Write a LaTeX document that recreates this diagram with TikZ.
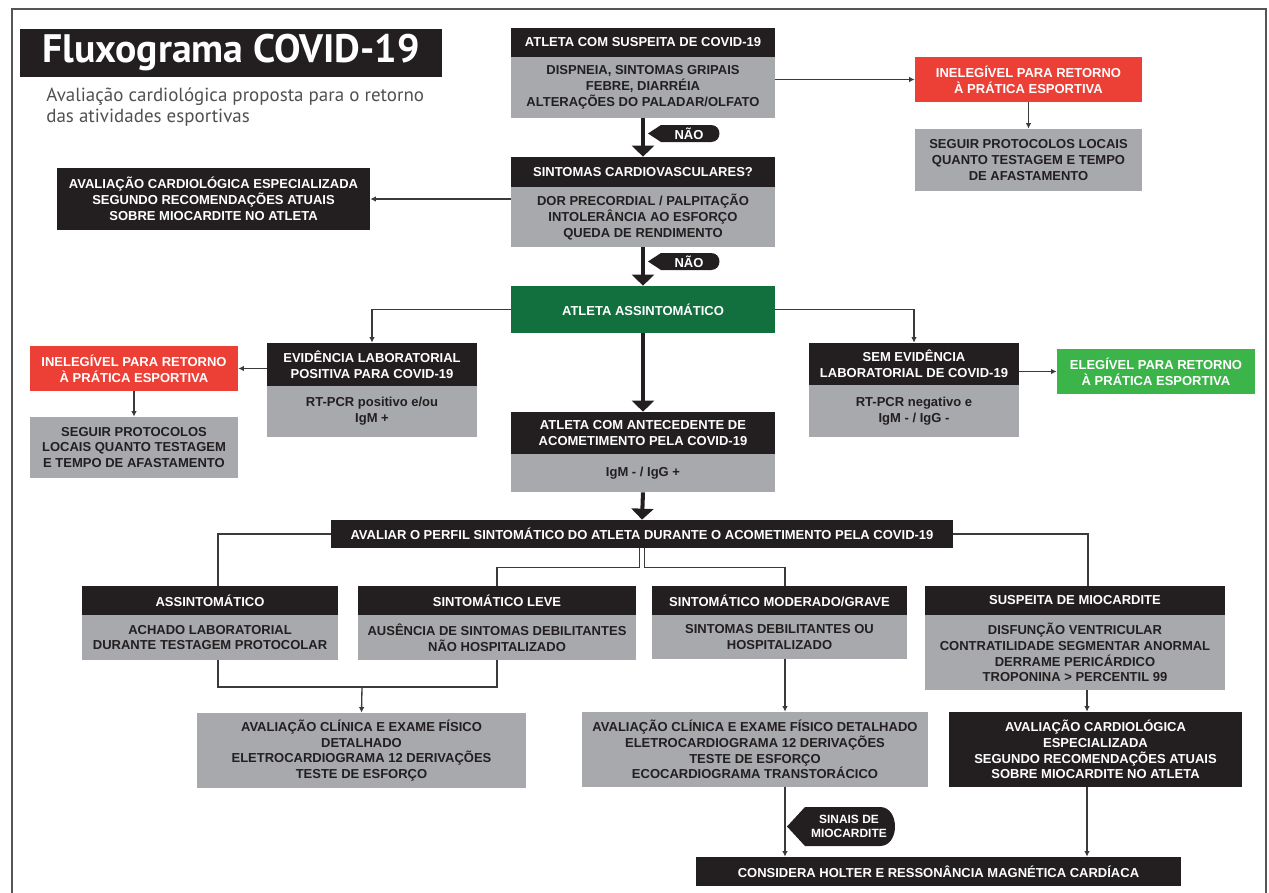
\documentclass[tikz,border=0pt]{standalone}
\usepackage{fontspec}
\setmainfont{Liberation Sans}
\newfontfamily\ttlfont{PT Sans}
\usetikzlibrary{arrows.meta}
\definecolor{ink}{HTML}{231F20}
\definecolor{grayb}{HTML}{A7A9AC}
\definecolor{redc}{HTML}{EC3F36}
\definecolor{dkgreen}{HTML}{12703F}
\definecolor{ltgreen}{HTML}{3BB54A}
\definecolor{lnc}{HTML}{3A3A3A}
\definecolor{framec}{HTML}{555555}
\definecolor{subc}{HTML}{505052}

\begin{document}
\begin{tikzpicture}[x=0.02cm,y=-0.02cm,
        box/.style={inner sep=0pt,align=center,font=\fontsize{7.4}{9}\selectfont\bfseries},
        hdr/.style={box,fill=ink,text=white},
        body/.style={box,fill=grayb,text=ink},
        redbox/.style={box,fill=redc,text=white},
        okbox/.style={box,fill=ltgreen,text=white},
        asbox/.style={box,fill=dkgreen,text=white},
        tagtxt/.style={box,text=white},
        bigarr/.style={draw=ink,line width=2.3pt,-{Triangle[length=0.22cm,width=0.44cm]}},
        thinarr/.style={draw=lnc,line width=0.75pt,-{Latex[length=3.2pt,width=3.2pt]}},
        thinln/.style={draw=lnc,line width=0.75pt}
    ]
    \useasboundingbox (0,0) rectangle (1269,893);
    \draw[framec,line width=1pt] (12,900) -- (12,9) -- (1266,9) -- (1266,900);

    \node[fill=ink,text=white,inner sep=0pt,minimum width=8.44cm,minimum height=0.96cm,
          font=\ttlfont\bfseries\fontsize{22.6}{26}\selectfont] (titulo) at (231,53) {Fluxograma COVID-19};
    \node[anchor=west,inner sep=0pt,align=left,text=subc,
          font=\ttlfont\fontsize{10.8}{12}\selectfont] (subtitulo) at (46,107)
          {Avaliação cardiológica proposta para o retorno\\das atividades esportivas};

    % coluna central
    \node[hdr,minimum width=5.28cm,minimum height=0.58cm] (h1) at (643,42.5) {ATLETA COM SUSPEITA DE COVID-19};
    \node[body,minimum width=5.28cm,minimum height=1.22cm] (b1) at (643,87.5)
        {DISPNEIA, SINTOMAS GRIPAIS\\FEBRE, DIARRÉIA\\ALTERAÇÕES DO PALADAR/OLFATO};
    \node[hdr,minimum width=5.28cm,minimum height=0.6cm] (h2) at (643,172) {SINTOMAS CARDIOVASCULARES?};
    \node[body,minimum width=5.28cm,minimum height=1.2cm] (b2) at (643,217)
        {DOR PRECORDIAL / PALPITAÇÃO\\INTOLERÂNCIA AO ESFORÇO\\QUEDA DE RENDIMENTO};
    \node[asbox,minimum width=5.28cm,minimum height=0.94cm] (assint) at (643,309.5) {ATLETA ASSINTOMÁTICO};
    \node[hdr,minimum width=5.28cm,minimum height=0.84cm] (h3) at (643,433)
        {ATLETA COM ANTECEDENTE DE\\ACOMETIMENTO PELA COVID-19};
    \node[body,minimum width=5.28cm,minimum height=0.76cm] (b3) at (643,473) {IgM - / IgG +};
    \node[hdr,minimum width=12.44cm,minimum height=0.56cm] (perfil) at (642,534)
        {AVALIAR O PERFIL SINTOMÁTICO DO ATLETA DURANTE O ACOMETIMENTO PELA COVID-19};

    \fill[ink] (648,133.5) -- (661,125) -- (711,125) .. controls (722.3,125) and (722.3,142) .. (711,142) -- (661,142) -- cycle;
    \node[tagtxt] (nao1) at (689,133.5) {NÃO};
    \fill[ink] (648,261.5) -- (661,253) -- (711,253) .. controls (722.3,253) and (722.3,270) .. (711,270) -- (661,270) -- cycle;
    \node[tagtxt] (nao2) at (689,261.5) {NÃO};

    % laterais
    \node[hdr,minimum width=6.26cm,minimum height=1.24cm] (esp) at (213.5,199)
        {AVALIAÇÃO CARDIOLÓGICA ESPECIALIZADA\\SEGUNDO RECOMENDAÇÕES ATUAIS\\SOBRE MIOCARDITE NO ATLETA};
    \node[redbox,minimum width=4.54cm,minimum height=0.9cm] (ineleg1) at (1028.5,79.5)
        {INELEGÍVEL PARA RETORNO\\À PRÁTICA ESPORTIVA};
    \node[body,minimum width=4.54cm,minimum height=1.24cm] (proto1) at (1028.5,160)
        {SEGUIR PROTOCOLOS LOCAIS\\QUANTO TESTAGEM E TEMPO\\DE AFASTAMENTO};
    \node[redbox,minimum width=4.16cm,minimum height=0.9cm] (ineleg2) at (134,368.5)
        {INELEGÍVEL PARA RETORNO\\À PRÁTICA ESPORTIVA};
    \node[body,minimum width=4.16cm,minimum height=1.22cm] (proto2) at (134,447.5)
        {SEGUIR PROTOCOLOS\\LOCAIS QUANTO TESTAGEM\\E TEMPO DE AFASTAMENTO};
    \node[hdr,minimum width=4.2cm,minimum height=0.86cm] (evidh) at (372,364.5)
        {EVIDÊNCIA LABORATORIAL\\POSITIVA PARA COVID-19};
    \node[body,minimum width=4.2cm,minimum height=1.02cm] (evidb) at (372,411.5)
        {RT-PCR positivo e/ou\\IgM +};
    \node[hdr,minimum width=4.2cm,minimum height=0.84cm] (semh) at (914,364)
        {SEM EVIDÊNCIA\\LABORATORIAL DE COVID-19};
    \node[body,minimum width=4.2cm,minimum height=1.04cm] (semb) at (914,411)
        {RT-PCR negativo e\\IgM - / IgG -};
    \node[okbox,minimum width=3.96cm,minimum height=0.9cm] (eleg) at (1156,371.5)
        {ELEGÍVEL PARA RETORNO\\À PRÁTICA ESPORTIVA};

    % perfis
    \node[hdr,minimum width=5.12cm,minimum height=0.58cm] (assh) at (210,600.5) {ASSINTOMÁTICO};
    \node[body,minimum width=5.12cm,minimum height=0.9cm] (assb) at (210,637.5)
        {ACHADO LABORATORIAL\\DURANTE TESTAGEM PROTOCOLAR};
    \node[hdr,minimum width=5.56cm,minimum height=0.58cm] (leveh) at (497,600.5) {SINTOMÁTICO LEVE};
    \node[body,minimum width=5.56cm,minimum height=0.9cm] (leveb) at (497,637.5)
        {AUSÊNCIA DE SINTOMAS DEBILITANTES\\NÃO HOSPITALIZADO};
    \node[hdr,minimum width=5.1cm,minimum height=0.58cm] (modh) at (779.5,600.5) {SINTOMÁTICO MODERADO/GRAVE};
    \node[body,minimum width=5.1cm,minimum height=0.88cm] (modb) at (779.5,637)
        {SINTOMAS DEBILITANTES OU\\HOSPITALIZADO};
    \node[hdr,minimum width=6cm,minimum height=0.58cm] (susph) at (1075,600.5) {SUSPEITA DE MIOCARDITE};
    \node[body,minimum width=6cm,minimum height=1.5cm] (suspb) at (1075,652.5)
        {DISFUNÇÃO VENTRICULAR\\CONTRATILIDADE SEGMENTAR ANORMAL\\DERRAME PERICÁRDICO\\TROPONINA > PERCENTIL 99};

    \node[body,minimum width=6.58cm,minimum height=1.5cm] (g1) at (361.5,750.5)
        {AVALIAÇÃO CLÍNICA E EXAME FÍSICO\\DETALHADO\\ELETROCARDIOGRAMA 12 DERIVAÇÕES\\TESTE DE ESFORÇO};
    \node[body,minimum width=6.92cm,minimum height=1.5cm] (g2) at (755,749.5)
        {AVALIAÇÃO CLÍNICA E EXAME FÍSICO DETALHADO\\ELETROCARDIOGRAMA 12 DERIVAÇÕES\\TESTE DE ESFORÇO\\ECOCARDIOGRAMA TRANSTORÁCICO};
    \node[hdr,minimum width=5.86cm,minimum height=1.5cm] (bk1) at (1095.5,749.5)
        {AVALIAÇÃO CARDIOLÓGICA\\ESPECIALIZADA\\SEGUNDO RECOMENDAÇÕES ATUAIS\\SOBRE MIOCARDITE NO ATLETA};
    \node[hdr,minimum width=9.7cm,minimum height=0.58cm] (holter) at (938.5,871.5)
        {CONSIDERA HOLTER E RESSONÂNCIA MAGNÉTICA CARDÍACA};

    \fill[ink] (787,826.5) -- (805,807) -- (880,807) .. controls (900,807) and (900,846) .. (880,846) -- (805,846) -- cycle;
    \node[tagtxt,font=\fontsize{6.8}{8.2}\selectfont\bfseries] (sinais) at (849,826.5) {SINAIS DE\\MIOCARDITE};

    % setas
    \draw[bigarr] (b1.south) -- (h2.north);
    \draw[bigarr] (b2.south) -- (assint.north);
    \draw[bigarr] (assint.south) -- (h3.north);
    \draw[bigarr] (b3.south) -- (perfil.north);

    \draw[thinarr] (b1.east |- ineleg1.west) -- (ineleg1.west);
    \draw[thinarr] (ineleg1.south) -- (proto1.north);
    \draw[thinarr] (b2.west |- esp.east) -- (esp.east);
    \draw[thinarr] (assint.west) -| (evidh.north);
    \draw[thinarr] (assint.east) -| (semh.north);
    \draw[thinarr] (evidh.west |- ineleg2.east) -- (ineleg2.east);
    \draw[thinarr] (ineleg2.south) -- (proto2.north);
    \draw[thinarr] (semh.east |- eleg.west) -- (eleg.west);

    \draw[thinln] (perfil.west) -| ([xshift=0.16cm]assh.north);
    \draw[thinln] ([xshift=-0.05cm]perfil.south) -- ++(0,19) -| (leveh.north);
    \draw[thinln] ([xshift=0.05cm]perfil.south) -- ++(0,19) -| ([xshift=0.11cm]modh.north);
    \draw[thinln] (perfil.east) -| ([xshift=0.26cm]susph.north);

    \coordinate (jn) at (362,687);
    \draw[thinln] ([xshift=0.16cm]assb.south) |- (jn) -| (leveb.south);
    \draw[thinarr] (jn) -- (g1.north);
    \draw[thinarr] ([xshift=0.11cm]modb.south) -- ([xshift=0.11cm]modb.south |- g2.north);
    \draw[thinarr] ([xshift=0.24cm]suspb.south) -- ([xshift=0.24cm]suspb.south |- bk1.north);
    \draw[thinarr] ([xshift=0.6cm]g2.south) -- ([xshift=0.6cm]g2.south |- holter.north);
    \draw[thinarr] ([xshift=-0.17cm]bk1.south) -- ([xshift=-0.17cm]bk1.south |- holter.north);
\end{tikzpicture}
\end{document}
